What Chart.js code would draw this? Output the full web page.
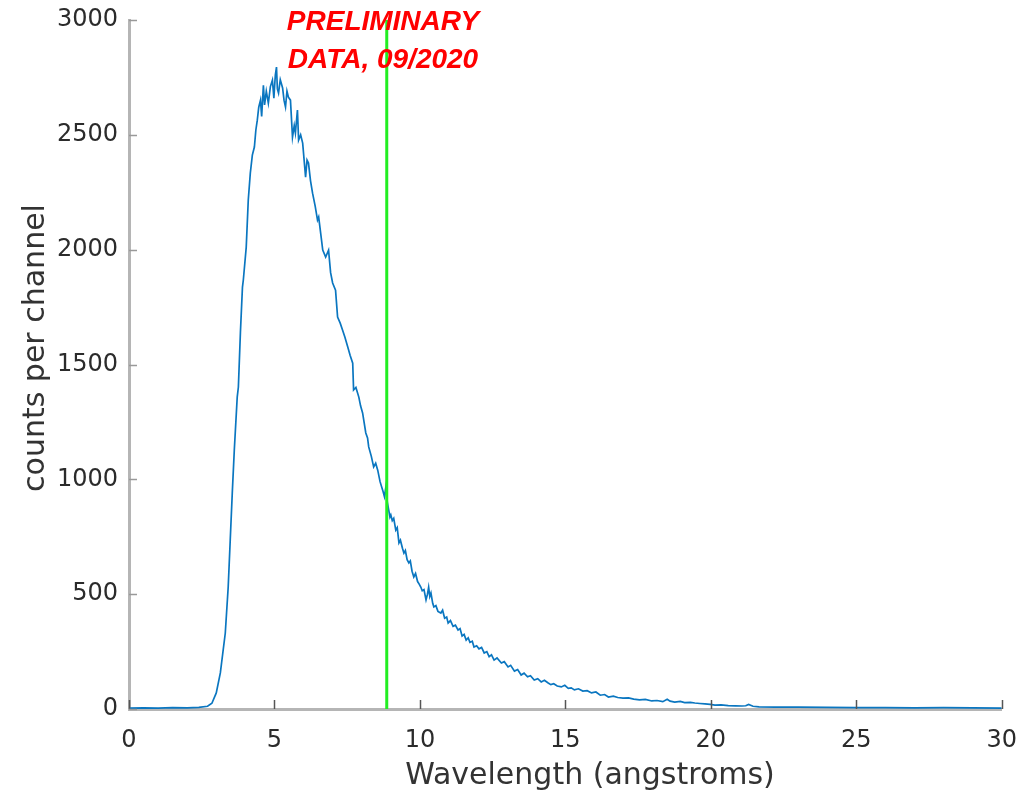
<!DOCTYPE html>
<html>
<head>
<meta charset="utf-8">
<script src="https://cdn.jsdelivr.net/npm/chart.js@4.4.1/dist/chart.umd.min.js"></script>
<style>
  html, body { margin: 0; padding: 0; background: #ffffff; }
  #wrap { width: 1026px; height: 798px; position: relative; }
</style>
</head>
<body>
<div id="wrap"><canvas id="c"></canvas></div>
<script>
// ---- data ----
const wavelength = [
  0.0, 0.5, 1.0, 1.5, 2.0, 2.4, 2.7, 2.85, 3.0, 3.14, 3.31, 3.41, 3.48, 3.55, 3.62, 3.72, 3.76, 3.83, 3.90, 3.93,
  4.03, 4.10, 4.17, 4.24, 4.31, 4.36, 4.41, 4.46, 4.52, 4.56, 4.62, 4.66, 4.72, 4.79, 4.86, 4.93, 4.98, 5.03, 5.07, 5.10,
  5.14, 5.20, 5.28, 5.33, 5.38, 5.43, 5.48, 5.55, 5.62, 5.68, 5.72, 5.79, 5.83, 5.90, 5.97, 6.07, 6.12, 6.17, 6.24, 6.31,
  6.40, 6.48, 6.52, 6.60, 6.66, 6.76, 6.86, 6.93, 7.00, 7.10, 7.17, 7.26, 7.34, 7.42, 7.52, 7.60, 7.69, 7.72, 7.80, 7.90,
  7.96, 8.03, 8.14, 8.20, 8.24, 8.33, 8.41, 8.48, 8.55, 8.63, 8.72, 8.78, 8.83, 8.88, 8.97,
  9.00, 9.05, 9.10, 9.17, 9.22, 9.28, 9.33, 9.40, 9.45, 9.50, 9.56, 9.62, 9.67, 9.73, 9.79, 9.85, 9.92, 9.97,
  10.03, 10.08, 10.14, 10.21, 10.26, 10.30, 10.34, 10.38, 10.44, 10.48, 10.55, 10.62, 10.72, 10.78, 10.85, 10.92, 10.97,
  11.05, 11.14, 11.22, 11.31, 11.38, 11.45, 11.52, 11.59, 11.66, 11.72, 11.80, 11.86, 11.95,
  12.03, 12.12, 12.21, 12.30, 12.38, 12.46, 12.55, 12.65, 12.80, 12.90,
  13.03, 13.12, 13.25, 13.36, 13.48, 13.58, 13.70, 13.80, 13.93,
  14.05, 14.17, 14.28, 14.41, 14.50, 14.60, 14.72, 14.86, 14.98,
  15.10, 15.20, 15.31, 15.45, 15.60, 15.75, 15.90, 16.05, 16.20, 16.35, 16.48, 16.65, 16.80, 16.98,
  17.17, 17.35, 17.55, 17.75, 17.97, 18.15, 18.35, 18.50, 18.60, 18.76, 18.95, 19.10, 19.30, 19.45, 19.62, 19.80, 19.98,
  20.14, 20.35, 20.60, 20.85, 21.07, 21.20, 21.30, 21.45, 21.66, 22.2, 23.0, 24.0,
  25.0, 26.0, 27.0, 28.0, 29.0, 30.0
];
const counts = [
  4, 5, 4, 6, 5, 7, 12, 25, 70, 157, 331, 531, 736, 940, 1128, 1358, 1402, 1640, 1837, 1868,
  2011, 2216, 2333, 2412, 2447, 2520, 2564, 2620, 2651, 2580, 2716, 2630, 2690, 2638, 2710, 2738, 2660, 2760, 2795, 2700,
  2682, 2740, 2704, 2650, 2621, 2690, 2664, 2651, 2490, 2540, 2508, 2608, 2477, 2500, 2464, 2316, 2390, 2377, 2300, 2246,
  2190, 2129, 2142, 2060, 1998, 1968, 1998, 1900, 1855, 1824, 1707, 1680, 1650, 1620, 1576, 1540, 1506, 1389, 1400, 1358,
  1320, 1289, 1202, 1180, 1141, 1100, 1054, 1070, 1040, 990, 953, 925, 967, 900, 836,
  845, 820, 830, 779, 790, 723, 735, 700, 679, 690, 650, 636, 645, 600, 575, 590, 555, 545,
  531, 515, 520, 475, 500, 530, 490, 505, 460, 444, 450, 425, 418, 430, 395, 400, 374,
  385, 360, 365, 344, 350, 318, 325, 300, 310, 290, 295, 270, 275,
  262, 268, 244, 250, 228, 236, 213, 222, 200, 206,
  183, 190, 165, 172, 148, 156, 140, 145, 126,
  132, 118, 125, 113, 106, 110, 100, 96, 103,
  90, 92, 83, 88, 78, 80, 70, 74, 60, 63, 52, 56, 50, 47,
  48, 43, 40, 42, 35, 37, 32, 42, 34, 30, 33, 28, 29, 26, 24, 22, 20,
  17, 18, 15, 14, 13, 14, 20, 12, 9, 8, 8, 7,
  6, 6, 5, 6, 5, 4
];
const markerWavelength = 8.86;
const xTicks = [0, 5, 10, 15, 20, 25, 30];
const yTicks = [0, 500, 1000, 1500, 2000, 2500, 3000];
const xTitle = 'Wavelength (angstroms)';
const yTitle = 'counts per channel';
const noteLines = ['PRELIMINARY', 'DATA, 09/2020'];

const points = wavelength.map((w, i) => ({ x: w, y: counts[i] }));

const decorPlugin = {
  id: 'decor',
  afterDatasetsDraw(chart) {
    const { ctx, chartArea, scales } = chart;
    const xs = scales.x;
    ctx.save();
    const gx = xs.getPixelForValue(markerWavelength);
    ctx.strokeStyle = '#22ee22';
    ctx.lineWidth = 3;
    ctx.beginPath();
    ctx.moveTo(gx, chartArea.top);
    ctx.lineTo(gx, chartArea.bottom);
    ctx.stroke();
    ctx.restore();
  },
  afterDraw(chart) {
    const { ctx, chartArea, scales } = chart;
    const xs = scales.x, ys = scales.y;
    ctx.save();
    ctx.lineWidth = 1.5;
    ctx.strokeStyle = '#555555';
    xTicks.forEach(v => {
      const px = Math.round(xs.getPixelForValue(v)) + 0.5;
      ctx.beginPath();
      ctx.moveTo(px, chartArea.bottom);
      ctx.lineTo(px, chartArea.bottom - 9);
      ctx.stroke();
    });
    ctx.strokeStyle = '#999999';
    yTicks.forEach(v => {
      const py = Math.round(ys.getPixelForValue(v)) + 0.5;
      ctx.beginPath();
      ctx.moveTo(chartArea.left, py);
      ctx.lineTo(chartArea.left + 8, py);
      ctx.stroke();
    });
    ctx.fillStyle = '#333333';
    ctx.font = '30px "DejaVu Sans"';
    ctx.textAlign = 'center';
    ctx.textBaseline = 'middle';
    ctx.fillText(xTitle, 590, 776);
    ctx.save();
    ctx.translate(36, 348);
    ctx.rotate(-Math.PI / 2);
    ctx.fillText(yTitle, 0, 0);
    ctx.restore();
    ctx.fillStyle = '#ff0000';
    ctx.font = 'italic bold 28px "Liberation Sans"';
    ctx.textAlign = 'center';
    ctx.textBaseline = 'alphabetic';
    ctx.fillText(noteLines[0], 383, 30);
    ctx.fillText(noteLines[1], 383, 68);
    ctx.restore();
  }
};

new Chart(document.getElementById('c'), {
  type: 'line',
  data: {
    datasets: [{
      data: points,
      borderColor: 'rgb(10,118,192)',
      borderWidth: 1.7,
      pointRadius: 0,
      tension: 0,
      fill: false
    }]
  },
  options: {
    responsive: true,
    maintainAspectRatio: false,
    animation: false,
    layout: { padding: { top: 20, right: 22, left: 0, bottom: 0 } },
    plugins: { legend: { display: false }, tooltip: { enabled: false } },
    scales: {
      x: {
        type: 'linear',
        min: 0, max: 30,
        afterFit: s => { s.height = 89; },
        afterBuildTicks: s => { s.ticks = xTicks.map(v => ({ value: v })); },
        grid: { display: false },
        border: { display: true, color: '#b5b5b5', width: 3 },
        ticks: { padding: 9, color: '#2b2b2b', font: { family: 'DejaVu Sans', size: 24 }, maxRotation: 0,
                 callback: v => String(v) }
      },
      y: {
        type: 'linear',
        min: 0, max: 3000,
        afterFit: s => { s.width = 129; },
        afterBuildTicks: s => { s.ticks = yTicks.map(v => ({ value: v })); },
        grid: { display: false },
        border: { display: true, color: '#b5b5b5', width: 3 },
        ticks: { padding: 3, color: '#2b2b2b', font: { family: 'DejaVu Sans', size: 24 },
                 callback: v => String(v) }
      }
    }
  },
  plugins: [decorPlugin]
});
</script>
</body>
</html>
